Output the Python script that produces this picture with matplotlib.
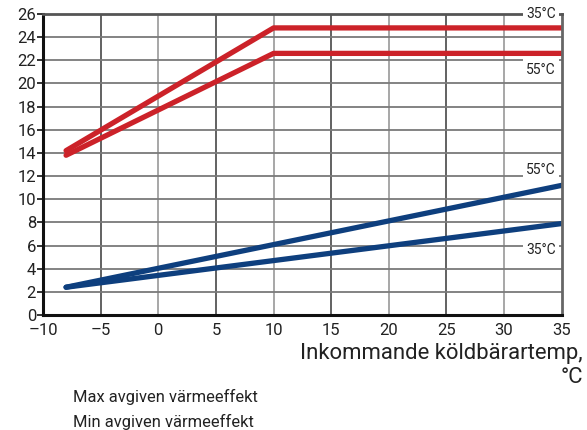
"""Värmeeffekt vs inkommande köldbärartemperatur."""

import matplotlib
matplotlib.use("Agg")
from matplotlib import pyplot as plt

plt.rcParams["font.family"] = ["Roboto", "DejaVu Sans"]

RED = "#cc2229"
BLUE = "#0e3f7e"

# max avgiven värmeeffekt (kW)
max_35_x = [-8, 10, 35]
max_35_y = [14.2, 24.8, 24.8]
max_55_x = [-8, 10, 35]
max_55_y = [13.8, 22.6, 22.6]

# min avgiven värmeeffekt (kW)
min_55_x = [-8, 35]
min_55_y = [2.4, 11.2]
min_35_x = [-8, 35]
min_35_y = [2.4, 7.9]

x_ticks = [-10, -5, 0, 5, 10, 15, 20, 25, 30, 35]
y_ticks = list(range(0, 27, 2))

curve_labels = [("35°C", 26.0), ("55°C", 21.2), ("55°C", 12.5), ("35°C", 5.6)]

fig = plt.figure(figsize=(5.87, 4.30), dpi=100)
ax = fig.add_axes([0.0733, 0.2674, 0.8837, 0.70])

ax.set_xlim(-10, 35)
ax.set_ylim(0, 26)
ax.set_xticks(x_ticks)
ax.set_yticks(y_ticks)
ax.set_xticklabels([str(v).replace("-", "\u2013") for v in x_ticks])

for i, xv in enumerate(x_ticks[1:-1]):
    ax.axvline(xv, color="#555555" if i % 2 == 0 else "#a0a0a0", lw=1.3, zorder=1)
for yv in y_ticks[1:-1]:
    ax.axhline(yv, color="#7a7a7a", lw=1.3, zorder=1)

for xs, ys, c in [(max_35_x, max_35_y, RED), (max_55_x, max_55_y, RED),
                  (min_55_x, min_55_y, BLUE), (min_35_x, min_35_y, BLUE)]:
    ax.plot(xs, ys, color=c, lw=3.8, solid_capstyle="round", zorder=2)

for txt, yv in curve_labels:
    ax.text(34.5, yv, txt, ha="right", va="center", fontsize=10, color="#222222",
            bbox=dict(facecolor="white", edgecolor="none", pad=2.5), zorder=5,
            clip_on=False)

for side in ("left", "bottom"):
    ax.spines[side].set_color("#111111")
    ax.spines[side].set_linewidth(2.2)
ax.spines["top"].set_color("#555555")
ax.spines["top"].set_linewidth(2)
ax.spines["right"].set_color("#666666")
ax.spines["right"].set_linewidth(2)

ax.tick_params(axis="y", length=4, width=1.2, color="#111111", labelsize=12,
               labelcolor="#222222", pad=1)
ax.tick_params(axis="x", length=0, labelsize=12, labelcolor="#222222", pad=6)

fig.text(0.993, 0.150, "Inkommande köldbärartemp,\n°C", ha="right", va="center",
         fontsize=15.9, color="#222222", linespacing=1.2)

fig.text(0.1244, 0.0774, "Max avgiven värmeeffekt", ha="left", va="center",
         fontsize=11.9, color="#222222")
fig.text(0.1244, 0.0193, "Min avgiven värmeeffekt", ha="left", va="center",
         fontsize=11.9, color="#222222")

fig.savefig("out.png", dpi=100)
plt.close(fig)
